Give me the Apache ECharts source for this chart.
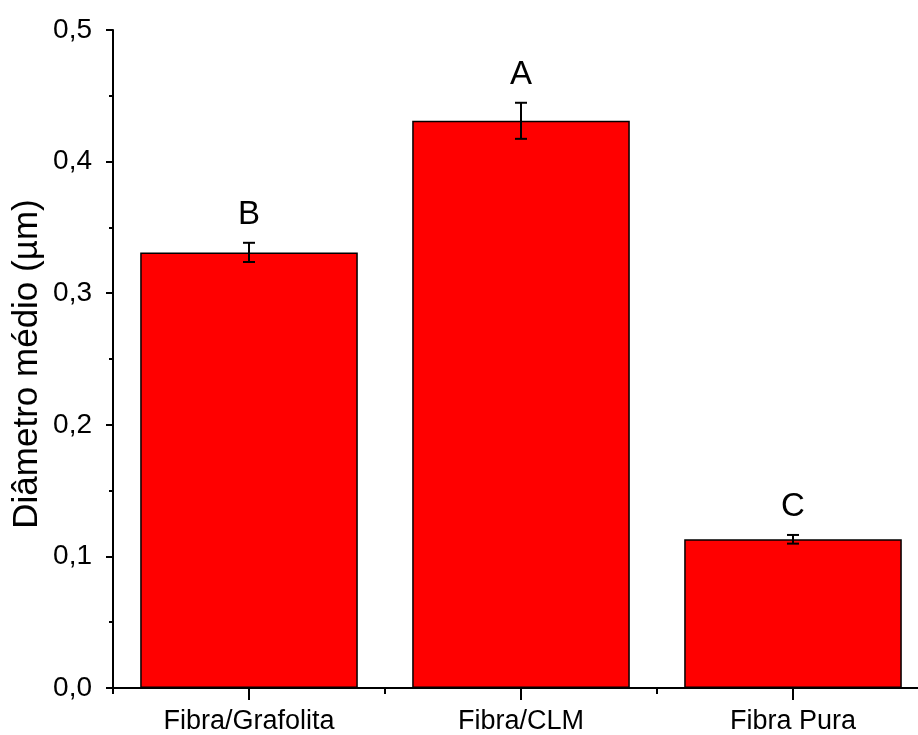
<!DOCTYPE html>
<html>
<head>
<meta charset="utf-8">
<script src="https://cdn.jsdelivr.net/npm/echarts@6/dist/echarts.min.js"></script>
<style>html,body{margin:0;padding:0;background:#fff}#c{width:918px;height:735px}</style>
</head>
<body>
<div id="c"></div>
<script>
const categories = ['Fibra/Grafolita', 'Fibra/CLM', 'Fibra Pura'];
const means = [0.331, 0.431, 0.113];
const errors = [0.0073, 0.0137, 0.0033];
const letters = ['B', 'A', 'C'];
const yTitle = 'Diâmetro médio (µm)';

const FONT = '"Liberation Sans", Arial, sans-serif';
const chart = echarts.init(document.getElementById('c'), null, {renderer: 'canvas'});
const errData = means.map((m, i) => [i, m, errors[i]]);

chart.setOption({
  animation: false,
  backgroundColor: '#fff',
  grid: {left: 113, top: 30, width: 816, bottom: 47, containLabel: false, outerBoundsMode: 'none'},
  graphic: [{
    type: 'text', x: 27.5, y: 364, rotation: Math.PI / 2,
    style: {text: yTitle, fill: '#000', fontFamily: FONT, fontSize: 35,
      align: 'center', verticalAlign: 'middle'}
  }],
  xAxis: [{
    type: 'category', data: categories, position: 'bottom',
    axisLine: {show: true, lineStyle: {color: '#000', width: 2}},
    axisTick: {show: true, alignWithLabel: true, length: 12, lineStyle: {color: '#000', width: 2}},
    axisLabel: {color: '#000', fontFamily: FONT, fontSize: 27, margin: 20},
    splitLine: {show: false}
  }, {
    type: 'category', data: categories, position: 'bottom', gridIndex: 0,
    axisLine: {show: false},
    axisTick: {show: true, length: 6, lineStyle: {color: '#000', width: 2}},
    axisLabel: {show: false},
    splitLine: {show: false}
  }],
  yAxis: {
    type: 'value', min: 0, max: 0.5, interval: 0.1,
    axisLine: {show: true, lineStyle: {color: '#000', width: 2}},
    axisTick: {show: true, length: 7, lineStyle: {color: '#000', width: 2}},
    minorTick: {show: true, splitNumber: 2, length: 4, lineStyle: {color: '#000', width: 2}},
    axisLabel: {color: '#000', fontFamily: FONT, fontSize: 28, margin: 21,
      formatter: v => v.toFixed(1).replace('.', ',')},
    splitLine: {show: false}
  },
  series: [{
    type: 'bar', data: means, barWidth: '80%', xAxisIndex: 0,
    itemStyle: {color: '#ff0000', borderColor: '#000', borderWidth: 1.5}
  }, {
    type: 'custom', xAxisIndex: 0, data: errData, z: 10,
    encode: {x: 0, y: 1},
    renderItem: function (params, api) {
      const x = api.value(0), m = api.value(1), e = api.value(2);
      const top = api.coord([x, m + e]);
      const bot = api.coord([x, m - e]);
      const cx = top[0], hw = 6;
      const ls = {stroke: '#000', lineWidth: 2};
      return {
        type: 'group',
        children: [
          {type: 'line', shape: {x1: cx, y1: top[1], x2: cx, y2: bot[1]}, style: ls},
          {type: 'line', shape: {x1: cx - hw, y1: top[1], x2: cx + hw, y2: top[1]}, style: ls},
          {type: 'line', shape: {x1: cx - hw, y1: bot[1], x2: cx + hw, y2: bot[1]}, style: ls},
          {type: 'text', x: cx, y: top[1] - 28, style: {
            text: letters[params.dataIndex], fill: '#000', fontFamily: FONT, fontSize: 33,
            align: 'center', verticalAlign: 'middle'}}
        ]
      };
    }
  }]
});
</script>
</body>
</html>
